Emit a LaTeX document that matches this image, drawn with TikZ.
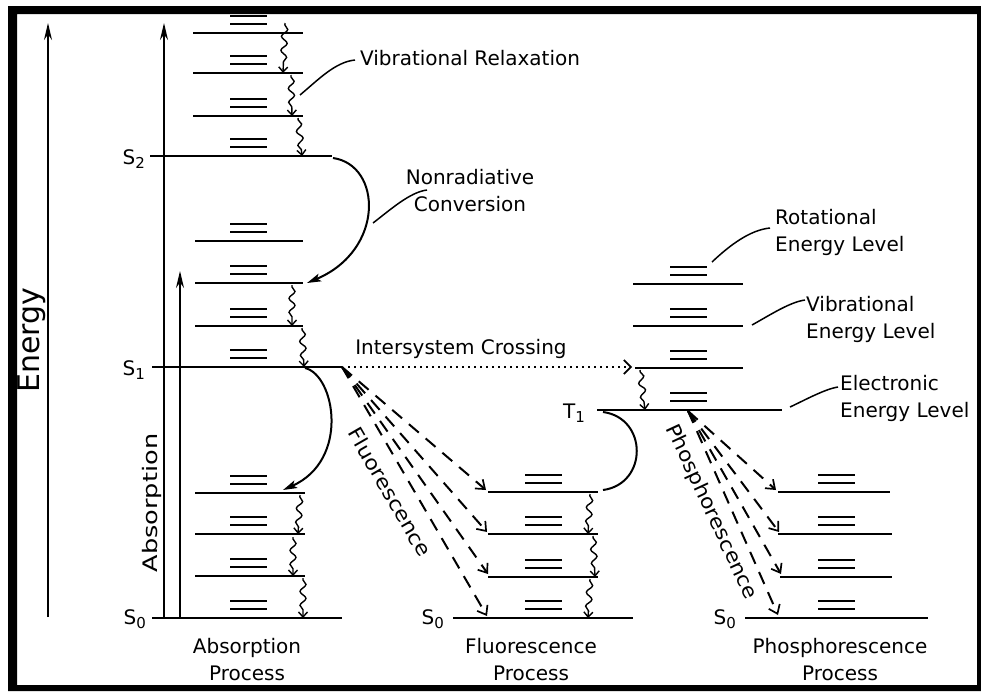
\documentclass[tikz,border=0pt]{standalone}
\usepackage{fontspec}
\setmainfont{DejaVu Sans}
\usetikzlibrary{arrows.meta,decorations.pathmorphing}
% lowered, smaller digit for state labels (S_0, T_1, ...)
\newcommand\statesub[1]{\raisebox{-4pt}{\fontsize{15}{15}\selectfont #1}}
\begin{document}
\begin{tikzpicture}[x=1pt,y=-1pt,
  level/.style={line width=2.8pt},
  rotl/.style={line width=2pt},
  wavy/.style={line width=1.4pt,decorate,
    decoration={snake,amplitude=3pt,segment length=14pt,pre length=2pt,post length=6pt},
    -{Straight Barb[length=5pt,width=9pt,line width=1.4pt]}},
  nonrad/.style={line width=2pt,-{Stealth[length=14pt,width=8pt,inset=3pt]}},
  emit/.style={line width=2pt,dash pattern=on 13pt off 9pt,
    -{Straight Barb[length=8pt,width=12pt,line width=1.7pt]}},
  isc/.style={line width=1.7pt,dash pattern=on 2pt off 4pt,
    -{Straight Barb[length=7pt,width=14pt,line width=1.7pt]}},
  axis/.style={line width=1.9pt,-{Stealth[length=17pt,width=8pt]}},
  leader/.style={line width=1.5pt},
  lbl/.style={font=\fontsize{20}{27}\selectfont,inner sep=0pt}]
\useasboundingbox (0,0) rectangle (981,691);
\fill[white] (0,0) rectangle (981,691);

% ---- energy levels ----
\foreach \xa/\xb/\y in {193/303/33,193/303/73,193/303/116,150/332/156,
  195/303/241,195/303/283,195/303/326,152/342/367,
  195/305/493,195/305/534,195/305/576,152/342/618,
  488/598/492,488/598/534,488/598/577,453/633/618,
  633/743/284,633/743/326,635/743/368,597/782/410,
  778/890/492,778/892/534,780/892/577,745/928/618}
  \draw[level] (\xa,\y) -- (\xb,\y);

% ---- rotational sub-levels above each level ----
\foreach \x/\y in {230/33,230/73,230/116,230/156,230/241,230/283,230/326,230/367,
  230/493,230/534,230/576,230/618,
  525/492,525/534,525/577,525/618,
  670/284,670/326,670/368,670/410,
  818/492,818/534,818/577,818/618}
  {\draw[rotl] (\x,\y-17) -- ++(37,0);
   \draw[rotl] (\x,\y-9) -- ++(37,0);}

% ---- vibrational relaxation ----
\foreach \n/\xa/\ya/\xb/\yb in {1/285/23/283/73,2/291/75/292/116,3/298/118/302/156,
  4/292/285/292/326,5/302/328/304/367,
  6/300/495/298/534,7/293/537/293/576,8/303/578/303/618,
  9/590/494/588/534,10/593/536/595/577,11/590/579/588/618,
  12/640/370/645/410}
  {\coordinate (v\n a) at (\xa,\ya);
   \coordinate (v\n b) at (\xb,\yb);
   \draw[wavy] (v\n a) -- (v\n b);}

% ---- vertical arrows ----
\coordinate (e0) at (48,617);  \coordinate (e1) at (48,23);
\coordinate (g0) at (164,618); \coordinate (g1) at (164,23);
\coordinate (a0) at (180,618); \coordinate (a1) at (180,271);
\draw[axis] (e0) -- (e1);
\draw[axis] (g0) -- (g1);
\draw[axis] (a0) -- (a1);

% ---- nonradiative conversions ----
\coordinate (nr1a) at (333,158); \coordinate (nr1b) at (307,283);
\coordinate (nr2a) at (305,368); \coordinate (nr2b) at (283,490);
\coordinate (nr3a) at (603,412); \coordinate (nr3b) at (603,490);
\draw[nonrad] (nr1a) .. controls (382,165) and (385,250) .. (nr1b);
\draw[nonrad] (nr2a) .. controls (335,375) and (350,460) .. (nr2b);
\draw[line width=2pt] (nr3a) .. controls (648,418) and (648,484) .. (nr3b);

% ---- intersystem crossing ----
\coordinate (isc0) at (348,367); \coordinate (isc1) at (632,367);
\draw[isc] (isc0) -- (isc1);

% ---- fluorescence ----
\coordinate (fl0) at (342,367);
\foreach \n/\x/\y in {1/486/490,2/487/532,3/488/574,4/487/616}
  {\coordinate (fl\n) at (\x,\y); \draw[emit] (fl0) -- (fl\n);}

% ---- phosphorescence ----
\coordinate (ph0) at (688,411);
\foreach \n/\x/\y in {1/776/490,2/779/532,3/781/574,4/778/615}
  {\coordinate (ph\n) at (\x,\y); \draw[emit] (ph0) -- (ph\n);}

% ---- labels ----
\node[lbl] (vr) at (470,58) {Vibrational Relaxation};
\node[lbl,align=center] (nc) at (470,191) {Nonradiative\\Conversion};
\node[lbl] (isct) at (461,349) {Intersystem Crossing};
\node[lbl,align=left,anchor=west] (rot) at (775,232) {Rotational\\Energy Level};
\node[lbl,align=left,anchor=west] (vib) at (806,319) {Vibrational\\Energy Level};
\node[lbl,align=left,anchor=west] (ele) at (840,398) {Electronic\\Energy Level};
\node[lbl,align=center] (ap) at (247,660) {Absorption\\Process};
\node[lbl,align=center] (fp) at (531,660) {Fluorescence\\Process};
\node[lbl,align=center] (pp) at (840,660) {Phosphorescence\\Process};
\node[lbl,rotate=90] (en) at (32,340) {\fontsize{30}{30}\selectfont Energy};
\node[lbl,rotate=90] (ab) at (152,503) {\scalebox{1.28}[1]{Absorption}};
\node[lbl,rotate=-60] (fl) at (390,492) {\scalebox{1.1}[1]{Fluorescence}};
\node[lbl,rotate=-65] (ph) at (711,512) {\scalebox{1.09}[1]{Phosphorescence}};

\node[lbl,anchor=base east] (s2) at (145,164) {S\statesub{2}};
\node[lbl,anchor=base east] (s1) at (145,375) {S\statesub{1}};
\node[lbl,anchor=base east] (s0a) at (146,624) {S\statesub{0}};
\node[lbl,anchor=base east] (s0f) at (444,624) {S\statesub{0}};
\node[lbl,anchor=base east] (s0p) at (736,624) {S\statesub{0}};
\node[lbl,anchor=base east] (t1) at (585,418) {T\statesub{1}};

% ---- leader lines ----
\coordinate (l1a) at (300,95);  \coordinate (l1b) at (355,60);
\coordinate (l2a) at (373,223); \coordinate (l2b) at (427,190);
\coordinate (l3a) at (712,262); \coordinate (l3b) at (770,228);
\coordinate (l4a) at (752,325); \coordinate (l4b) at (805,300);
\coordinate (l5a) at (790,407); \coordinate (l5b) at (838,387);
\draw[leader] (l1a) .. controls (318,80) and (335,62) .. (l1b);
\draw[leader] (l2a) .. controls (390,210) and (410,192) .. (l2b);
\draw[leader] (l3a) .. controls (730,245) and (750,230) .. (l3b);
\draw[leader] (l4a) .. controls (770,315) and (790,302) .. (l4b);
\draw[leader] (l5a) .. controls (805,400) and (825,389) .. (l5b);

% ---- frame ----
\fill[black,even odd rule] (8,6) rectangle (981,691) (17,14) rectangle (977,685);
\end{tikzpicture}
\end{document}
